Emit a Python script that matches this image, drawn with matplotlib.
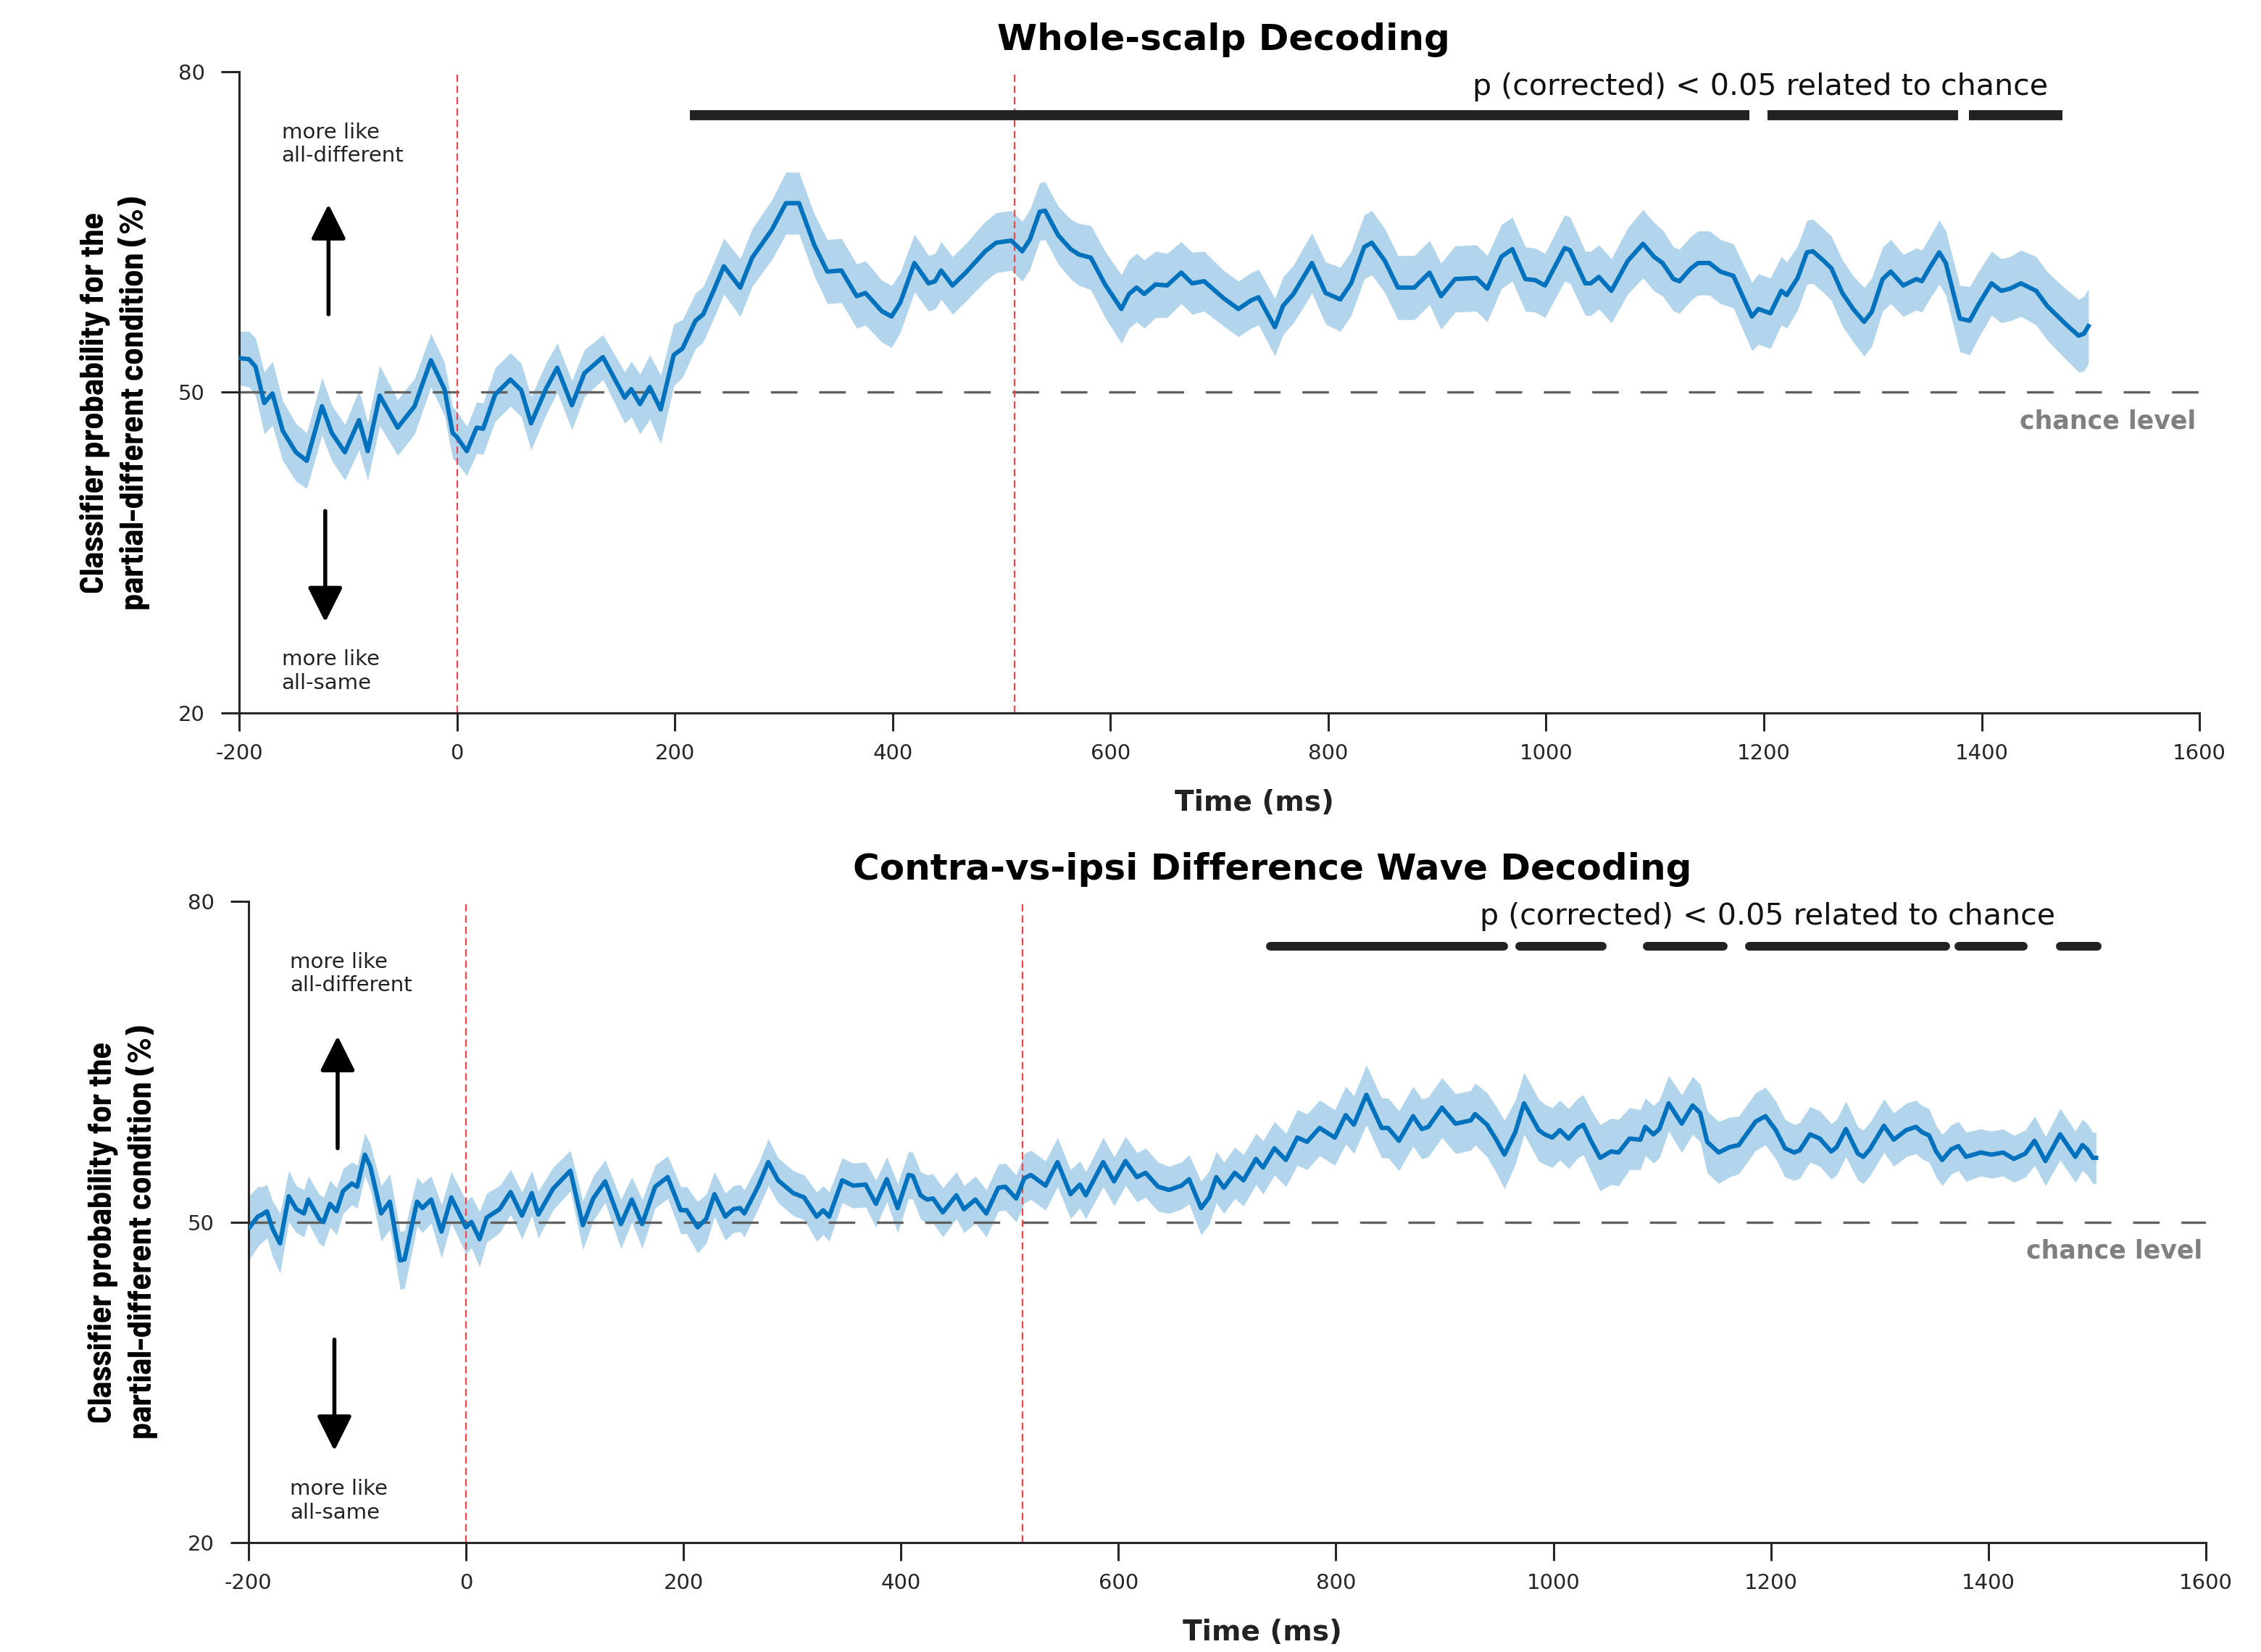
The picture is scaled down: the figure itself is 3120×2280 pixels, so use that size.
import os
import numpy as np
import matplotlib
matplotlib.use('Agg')
import matplotlib.pyplot as plt
from matplotlib import font_manager
from matplotlib.font_manager import FontProperties

# ---- whole-scalp decoding (top) ----
t_top = ([-200, -191, -185, -177, -169.5, -160, -148, -138, -124, -115,
          -103, -90, -82, -71, -54.5, -39, -24, -11.5, -4, 0,
          9, 18, 24, 35, 49, 59, 68, 82, 92, 105.5,
          117, 134, 154, 160, 168, 177, 187, 199, 207, 219,
          226, 236, 245, 260, 271, 289, 302, 314, 328, 340,
          353, 367, 375, 390, 399]
         + [407, 420, 433, 439, 444.5, 455, 468, 485, 495, 509,
            519, 526, 535, 540, 552, 563.5, 571, 582, 595, 610,
            617, 624, 631, 641.5, 652, 665, 675, 686, 704, 717.5,
            729, 736, 751, 758.5, 768, 778, 785, 797.5, 811, 821,
            833, 840, 852, 864, 879, 893, 903.5, 916.5, 936, 946,
            959, 969, 981]
         + [990, 999, 1017, 1022, 1036, 1041, 1048.5, 1060, 1075, 1089,
            1099, 1107, 1117, 1122.5, 1133, 1139.5, 1150, 1160, 1172, 1180,
            1189, 1195, 1206, 1216, 1221, 1231, 1239.5, 1245, 1255, 1262,
            1272, 1282, 1292, 1299, 1309, 1316.5, 1328, 1340, 1345, 1352.5,
            1361, 1367, 1380, 1389, 1397, 1409, 1418, 1426, 1436, 1450,
            1460, 1477, 1489, 1494, 1498])
m_top = ([53.2, 53.1, 52.4, 49.0, 49.9, 46.4, 44.4, 43.6, 48.7, 46.2,
          44.4, 47.4, 44.5, 49.7, 46.7, 48.7, 53.0, 50.3, 46.2, 45.8,
          44.5, 46.7, 46.6, 49.8, 51.2, 50.2, 47.1, 50.4, 52.3, 48.8,
          51.8, 53.3, 49.5, 50.3, 48.9, 50.5, 48.4, 53.5, 54.1, 56.7,
          57.3, 59.6, 61.8, 59.8, 62.6, 65.2, 67.7, 67.7, 63.8, 61.3,
          61.4, 59.0, 59.3, 57.6, 57.1]
         + [58.4, 62.1, 60.2, 60.4, 61.4, 60.0, 61.3, 63.2, 64.0, 64.2,
            63.2, 64.3, 66.9, 67.0, 64.7, 63.4, 62.9, 62.6, 60.1, 57.8,
            59.2, 59.8, 59.2, 60.1, 60.0, 61.2, 60.2, 60.4, 58.8, 57.8,
            58.6, 58.9, 56.1, 58.1, 59.2, 60.9, 62.1, 59.3, 58.7, 60.2,
            63.6, 64.0, 62.3, 59.8, 59.8, 61.2, 59.0, 60.6, 60.7, 59.7,
            62.7, 63.4, 60.6]
         + [60.5, 60.0, 63.5, 63.3, 60.2, 60.2, 60.8, 59.5, 62.3, 63.9,
            62.7, 62.1, 60.6, 60.4, 61.6, 62.1, 62.1, 61.3, 60.9, 59.1,
            57.1, 57.8, 57.4, 59.5, 59.1, 60.7, 63.1, 63.2, 62.3, 61.6,
            59.3, 57.8, 56.6, 57.5, 60.6, 61.3, 60.0, 60.6, 60.4, 61.7,
            63.1, 62.1, 56.9, 56.7, 58.2, 60.2, 59.5, 59.7, 60.2, 59.5,
            58.1, 56.4, 55.3, 55.5, 56.2])
e_top = ([2.5, 2.6, 2.7, 2.9, 3.0, 2.8, 2.7, 2.6, 2.7, 2.6,
          2.6, 2.8, 2.7, 2.8, 2.6, 2.6, 2.5, 2.5, 2.4, 2.4,
          2.3, 2.4, 2.4, 2.5, 2.5, 2.5, 2.5, 2.4, 2.3, 2.3,
          2.2, 2.1, 2.4, 2.6, 2.8, 3.0, 3.2, 2.9, 2.7, 2.6,
          2.6, 2.6, 2.6, 2.7, 2.7, 2.8, 2.9, 2.9, 2.9, 3.0,
          3.0, 3.0, 3.0, 2.9, 2.9]
         + [2.8, 2.7, 2.6, 2.6, 2.7, 2.7, 2.7, 2.8, 2.8, 2.8,
            2.8, 2.8, 2.7, 2.7, 2.7, 2.8, 2.9, 3.0, 3.1, 3.2,
            3.2, 3.2, 3.2, 3.1, 3.0, 2.9, 2.9, 2.8, 2.6, 2.6,
            2.6, 2.6, 2.7, 2.7, 2.7, 2.8, 2.8, 2.9, 3.0, 3.0,
            3.0, 3.0, 3.0, 3.0, 3.0, 3.0, 3.1, 3.1, 3.1, 3.1,
            3.0, 3.0, 3.0]
         + [3.0, 3.0, 3.1, 3.1, 3.0, 3.0, 3.0, 3.0, 3.1, 3.2,
            3.2, 3.1, 3.0, 3.0, 3.0, 3.0, 3.0, 3.0, 3.0, 3.1,
            3.2, 3.3, 3.3, 3.2, 3.1, 3.0, 3.0, 3.0, 3.0, 3.0,
            3.1, 3.1, 3.2, 3.2, 3.0, 3.0, 2.9, 2.9, 2.9, 2.9,
            3.0, 3.0, 3.1, 3.2, 3.1, 3.0, 3.0, 3.0, 3.1, 3.2,
            3.2, 3.3, 3.4, 3.5, 3.5])
sig_top = [(214, 1187), (1203, 1378), (1388, 1474)]

# ---- contra-vs-ipsi difference wave decoding (bottom) ----
t_bot = ([-199, -191.5, -187.5, -183, -178, -171, -163, -156, -149, -145,
          -135, -131, -125, -119, -113, -105, -100, -93, -88, -78,
          -70, -60.5, -56.5, -45, -40, -32, -22.5, -13.5, 0, 5,
          12.5, 19, 31, 41, 51.5, 60.5, 66.5, 80, 96, 107.5,
          117, 128, 142.5, 152.5, 162, 174, 185.5, 197.5, 203, 213,
          221, 228.5, 238.5, 246, 252, 256, 269, 278, 287, 301,
          311, 322.5, 328.5, 334, 346, 356, 367.5, 377, 387, 397]
         + [407, 411, 418, 424, 429.5, 438.5, 451, 458, 468.5, 478.5,
            489.5, 496, 506, 513.5, 519.5, 533, 544, 556, 564.5, 570,
            586, 596, 606.5, 617, 625, 636.5, 646.5, 658, 665, 676,
            683.5, 690, 697, 707, 715, 726.5, 733, 743.5, 754, 764.5,
            773.5, 785, 799, 809, 816.5, 828, 842, 848, 858, 871,
            879, 885, 897.5, 910, 924, 928, 939, 947.5, 955, 965,
            973, 986.5]
         + [992, 999, 1006, 1014, 1022.5, 1027.5, 1034.5, 1043, 1053, 1060,
            1070, 1080, 1084.5, 1092, 1097.5, 1106, 1118, 1128, 1135, 1141.5,
            1152, 1162, 1170.5, 1186, 1195, 1204.5, 1213, 1221.5, 1226.5, 1236,
            1245, 1255.5, 1260.5, 1269, 1280, 1285, 1291, 1304, 1313, 1324.5,
            1333.5, 1339, 1345.5, 1352, 1357.5, 1366, 1372.5, 1379.5, 1393, 1403,
            1413.5, 1423.5, 1434, 1442.5, 1452.5, 1466, 1480, 1486.5, 1491, 1496,
            1499])
m_bot = ([49.5, 50.5, 50.7, 51.0, 49.4, 48.0, 52.4, 51.2, 50.8, 52.1,
          50.3, 50.0, 51.7, 51.0, 52.9, 53.6, 53.3, 56.3, 55.2, 50.8,
          51.9, 46.4, 46.5, 51.9, 51.3, 52.1, 49.1, 52.3, 49.5, 50.0,
          48.4, 50.4, 51.2, 52.8, 50.6, 52.7, 50.7, 53.1, 54.8, 49.7,
          52.2, 53.8, 49.8, 52.1, 49.8, 53.3, 54.2, 51.1, 51.1, 49.5,
          50.3, 52.6, 50.5, 51.2, 51.3, 50.8, 53.4, 55.6, 53.9, 52.7,
          52.3, 50.5, 51.1, 50.5, 53.9, 53.4, 53.5, 51.7, 54.0, 51.3]
         + [54.4, 54.3, 52.5, 52.1, 52.2, 50.9, 52.5, 51.2, 52.1, 50.8,
            53.2, 53.3, 52.2, 54.1, 54.4, 53.4, 55.6, 52.6, 53.5, 52.5,
            55.6, 53.8, 55.7, 54.2, 54.6, 53.3, 53.0, 53.4, 54.0, 51.3,
            52.3, 54.2, 53.2, 54.6, 53.9, 55.9, 55.1, 56.9, 55.8, 57.9,
            57.5, 58.8, 57.9, 60.0, 59.1, 61.9, 58.8, 58.8, 57.6, 59.9,
            58.7, 58.9, 60.7, 59.2, 59.5, 60.1, 59.1, 57.7, 56.3, 58.4,
            61.1, 58.6]
         + [58.2, 57.9, 58.6, 57.8, 58.8, 59.1, 57.6, 56.0, 56.6, 56.5,
            57.8, 57.7, 58.9, 58.2, 58.7, 61.1, 59.2, 60.9, 60.2, 57.5,
            56.5, 57.0, 57.2, 59.4, 59.9, 58.6, 56.9, 56.5, 56.7, 58.2,
            57.8, 56.6, 57.0, 58.7, 56.4, 56.1, 56.8, 59.0, 57.7, 58.6,
            58.9, 58.4, 58.1, 56.6, 55.8, 56.8, 57.1, 56.1, 56.5, 56.3,
            56.5, 55.9, 56.4, 57.6, 55.7, 58.2, 56.1, 57.2, 56.8, 56.0,
            56.0])
e_bot = ([3.0, 2.8, 2.6, 2.5, 2.6, 2.8, 2.4, 2.2, 2.2, 2.2,
          2.3, 2.3, 2.2, 2.2, 2.1, 2.0, 2.0, 2.0, 2.1, 2.6,
          2.6, 2.7, 2.7, 2.3, 2.3, 2.2, 2.5, 2.4, 2.5, 2.4,
          2.6, 2.3, 2.2, 2.1, 2.2, 2.1, 2.2, 2.0, 1.9, 2.3,
          2.1, 2.0, 2.3, 2.1, 2.3, 2.0, 2.0, 2.2, 2.2, 2.4,
          2.3, 2.1, 2.2, 2.2, 2.2, 2.2, 2.1, 2.2, 2.1, 2.1,
          2.1, 2.3, 2.3, 2.3, 2.1, 2.1, 2.1, 2.2, 2.1, 2.3]
         + [2.2, 2.2, 2.2, 2.3, 2.3, 2.3, 2.2, 2.2, 2.2, 2.2,
            2.2, 2.2, 2.2, 2.3, 2.3, 2.3, 2.3, 2.3, 2.2, 2.2,
            2.3, 2.3, 2.3, 2.3, 2.3, 2.3, 2.2, 2.2, 2.3, 2.5,
            2.5, 2.4, 2.4, 2.4, 2.4, 2.4, 2.5, 2.5, 2.5, 2.6,
            2.6, 2.6, 2.6, 2.7, 2.7, 2.8, 2.8, 2.8, 2.8, 2.8,
            2.8, 2.8, 2.8, 2.8, 2.8, 2.9, 3.0, 3.1, 3.2, 3.0,
            2.9, 2.9]
         + [2.8, 2.8, 2.8, 2.8, 2.8, 2.8, 2.9, 3.1, 3.1, 3.1,
            2.9, 2.8, 2.7, 2.7, 2.7, 2.6, 2.7, 2.7, 2.7, 2.9,
            2.9, 2.8, 2.7, 2.7, 2.7, 2.7, 2.7, 2.6, 2.6, 2.6,
            2.6, 2.6, 2.6, 2.6, 2.5, 2.5, 2.5, 2.5, 2.5, 2.5,
            2.5, 2.5, 2.5, 2.4, 2.4, 2.3, 2.3, 2.3, 2.2, 2.2,
            2.2, 2.2, 2.2, 2.3, 2.3, 2.4, 2.4, 2.4, 2.4, 2.4,
            2.4])
sig_bot = [(740, 954), (969, 1045), (1086, 1156), (1180, 1361), (1373, 1432), (1466, 1500)]

onsets = [0, 512]
xticks = [-200, 0, 200, 400, 600, 800, 1000, 1200, 1400, 1600]
yticks = [20, 50, 80]

plt.rcParams['axes.unicode_minus'] = False

# narrow bold face for the rotated y label
by_file = {os.path.basename(f.fname): f.fname for f in font_manager.fontManager.ttflist}
narrow_path = None
for cand in ['LiberationSansNarrow-Bold.ttf', 'BarlowSemiCondensed-Bold.ttf',
             'DejaVuSansCondensed-Bold.ttf']:
    if cand in by_file:
        narrow_path = by_file[cand]
        break

fig = plt.figure(figsize=(15.6, 11.4), dpi=200)
ax1 = fig.add_axes([0.1058, 0.5684, 0.8670, 0.3882])
ax2 = fig.add_axes([0.1099, 0.0662, 0.8657, 0.3882])


def draw(ax, t, m, e, sig, sig_y, sig_lw, cap, title, title_x, arrows):
    t = np.array(t); m = np.array(m); e = np.array(e)
    ax.fill_between(t, m - e, m + e, color='#b3d5eb', lw=0, zorder=1)
    ax.axhline(50, color='#606060', lw=1.2, ls=(0, (11, 9)), zorder=2)
    for x in onsets:
        ax.axvline(x, color='#f04848', lw=0.8, ls=(0, (4.5, 2.5)), zorder=2)
    ax.plot(t, m, color='#0072bd', lw=2.2, zorder=3)
    for a, b in sig:
        ax.plot([a, b], [sig_y, sig_y], color='#222222', lw=sig_lw,
                solid_capstyle=cap, zorder=4)
    ax.text(1197, 78.6, 'p (corrected) < 0.05 related to chance',
            ha='center', va='center', fontsize=14.8, color='#111111')
    ax.text(1597, 47.3, 'chance level', ha='right', va='center',
            fontsize=12.5, fontweight='bold', color='#808080')

    ux, u0, u1, dx, d0, d1, tx = arrows
    ax.annotate('', xy=(ux, u1), xytext=(ux, u0),
                arrowprops=dict(arrowstyle='-|>', lw=2, color='k', mutation_scale=37,
                                shrinkA=0, shrinkB=0))
    ax.annotate('', xy=(dx, d1), xytext=(dx, d0),
                arrowprops=dict(arrowstyle='-|>', lw=2, color='k', mutation_scale=37,
                                shrinkA=0, shrinkB=0))
    ax.text(tx, 73.2, 'more like\nall-different', ha='left', va='center',
            fontsize=10.5, color='#222222', linespacing=1.2)
    ax.text(tx, 23.9, 'more like\nall-same', ha='left', va='center',
            fontsize=10.5, color='#222222', linespacing=1.2)

    ax.set_xlim(-200, 1600)
    ax.set_ylim(20, 80)
    ax.set_xticks(xticks)
    ax.set_yticks(yticks)
    for s in ['top', 'right']:
        ax.spines[s].set_visible(False)
    for s in ['left', 'bottom']:
        ax.spines[s].set_linewidth(1.1)
        ax.spines[s].set_color('#262626')
    ax.tick_params(axis='both', direction='out', length=9, width=1.1,
                   labelsize=10.5, colors='#262626')
    ax.tick_params(axis='x', pad=6)
    ax.tick_params(axis='y', pad=8)
    ax.text(title_x, 1.05, title, transform=ax.transAxes, ha='center', va='center',
            fontsize=18, fontweight='bold')
    ax.text(0.518, -0.14, 'Time (ms)', transform=ax.transAxes, ha='center', va='center',
            fontsize=14, fontweight='bold', color='#222222')


draw(ax1, t_top, m_top, e_top, sig_top, 75.9, 5, 'butt', 'Whole-scalp Decoding', 0.502,
     (-118, 57.3, 67.6, -121, 38.9, 28.5, -161))
draw(ax2, t_bot, m_bot, e_bot, sig_bot, 75.8, 4.3, 'round',
     'Contra-vs-ipsi Difference Wave Decoding', 0.523,
     (-118, 56.9, 67.4, -121, 39.0, 28.6, -162))

ylab = 'Classifier probability for the\npartial-different condition (%)'
if narrow_path:
    fp = FontProperties(fname=narrow_path, size=18)
else:
    fp = FontProperties(family='DejaVu Sans', weight='bold', size=12)
ylabels = [fig.text(0.0507, 0.756, ylab, rotation=90, ha='center', va='center',
                    fontproperties=fp, linespacing=1.3),
           fig.text(0.0542, 0.254, ylab, rotation=90, ha='center', va='center',
                    fontproperties=fp.copy(), linespacing=1.3)]

# fit the rotated label to the length it has in the reference (~570 px)
fig.canvas.draw()
r = fig.canvas.get_renderer()
for lab in ylabels:
    h = lab.get_window_extent(r).height
    lab.set_fontsize(lab.get_fontsize() * 570.0 / h)

fig.savefig('out.png', dpi=200)
